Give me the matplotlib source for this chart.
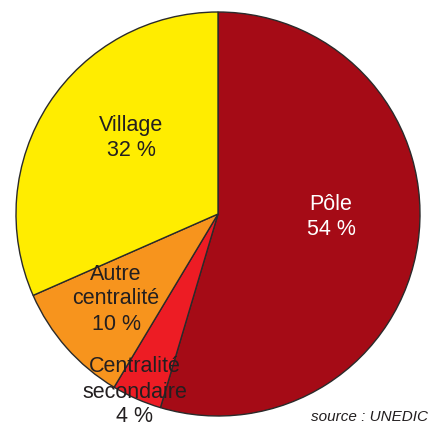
import matplotlib
matplotlib.use("Agg")
import matplotlib.pyplot as plt

categories = ["Pôle", "Centralité\nsecondaire", "Autre\ncentralité", "Village"]
values = [54.6, 4.0, 9.8, 31.6]
pct_labels = ["54 %", "4 %", "10 %", "32 %"]
colors = ["#A50B16", "#ED1C24", "#F7941D", "#FFED00"]
text_colors = ["white", "#231F20", "#231F20", "#231F20"]
label_pos = [(331, 217), (135, 392), (116, 299), (131, 138)]

W, H = 430, 426
fig = plt.figure(figsize=(W / 100, H / 100), dpi=100)
ax = fig.add_axes([0, 0, 1, 1])

ax.pie(values, colors=colors, startangle=90, counterclock=False,
       center=(218, H - 214), radius=202,
       wedgeprops=dict(edgecolor="#2a2a2a", linewidth=1.0))

ax.set_xlim(0, W)
ax.set_ylim(0, H)
ax.set_aspect("equal")
ax.axis("off")

for cat, pct, (x, y), tc in zip(categories, pct_labels, label_pos, text_colors):
    ax.text(x, H - y, cat + "\n" + pct, ha="center", va="center",
            fontsize=15.5, color=tc, family="Liberation Sans", linespacing=1.25)

ax.text(428, H - 421, "source : UNEDIC", ha="right", va="baseline",
        fontsize=11, style="italic", color="#231F20", family="Liberation Sans")

fig.savefig("out.png", dpi=100)
